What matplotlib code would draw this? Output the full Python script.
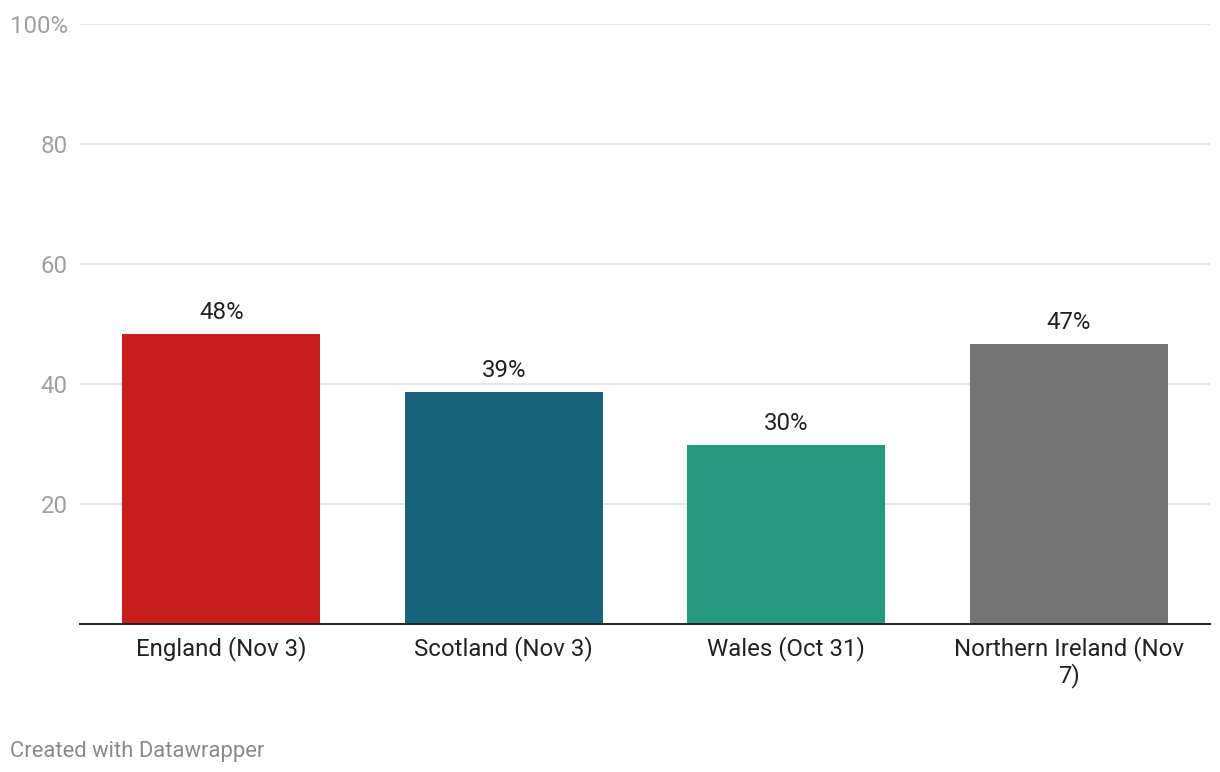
import matplotlib
matplotlib.use("Agg")
import matplotlib.pyplot as plt
import numpy as np

plt.rcParams['font.family'] = ['Roboto', 'DejaVu Sans']

# data
regions = ["England (Nov 3)", "Scotland (Nov 3)", "Wales (Oct 31)", "Northern Ireland (Nov\n7)"]
values = [48.3, 38.7, 29.8, 46.7]
labels = ["48%", "39%", "30%", "47%"]
colors = ["#c71e1d", "#18637c", "#25987e", "#737373"]
yticks = [20, 40, 60, 80, 100]
ytick_labels = ["20", "40", "60", "80", "100%"]

fig = plt.figure(figsize=(12.2, 7.72), dpi=100)
ax = fig.add_axes([80 / 1220, 148 / 772, 1130 / 1220, 600 / 772])

x = np.arange(len(regions))
bars = ax.bar(x, values, width=0.70, color=colors, zorder=3)

for b, lab in zip(bars, labels):
    ax.annotate(lab, (b.get_x() + b.get_width() / 2, b.get_height()),
                xytext=(0, 7), textcoords="offset points",
                ha="center", va="bottom", fontsize=17.3, color="#222222")

ax.set_xlim(-0.5, len(regions) - 0.5)
ax.set_ylim(0, 100)
ax.set_yticks(yticks)
ax.set_yticklabels(ytick_labels)
ax.set_xticks(x)
ax.set_xticklabels(regions, fontsize=17.3, color="#222222", linespacing=1.1)

ax.tick_params(axis="y", length=0, pad=9, labelsize=17.3, labelcolor="#a0a0a0")
ax.tick_params(axis="x", length=0, pad=8.5)
ax.yaxis.grid(True, color="#e2e2e2", linewidth=1.2, zorder=0)

for s in ["top", "right", "left"]:
    ax.spines[s].set_visible(False)
ax.spines["bottom"].set_color("#222222")
ax.spines["bottom"].set_linewidth(1.4)
ax.spines["bottom"].set_zorder(4)

fig.text(10 / 1220, 1 - 751 / 772, "Created with Datawrapper", fontsize=15.8,
         color="#8a8a8a", ha="left", va="center")

fig.savefig("out.png", dpi=100, facecolor="white")
